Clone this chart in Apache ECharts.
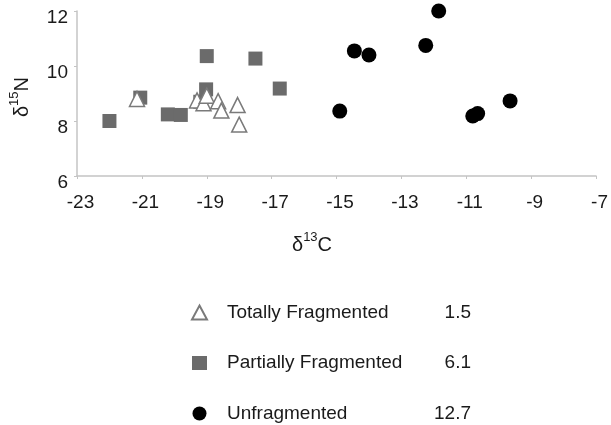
<!DOCTYPE html>
<html>
<head>
<meta charset="utf-8">
<script src="https://cdn.jsdelivr.net/npm/echarts@6/dist/echarts.min.js"></script>
<style>
html,body{margin:0;padding:0;background:#fff;}
#chart{width:611px;height:425px;}
</style>
</head>
<body>
<div id="chart"></div>
<script>
// ---- data ----
const seriesNames = ['Totally Fragmented', 'Partially Fragmented', 'Unfragmented'];
const legendValues = ['1.5', '6.1', '12.7'];

const totallyX = [-21.15, -19.3, -19.1, -19.0, -18.65, -18.55, -18.05, -18.0];
const totallyY = [8.8, 8.75, 8.65, 8.92, 8.72, 8.38, 8.58, 7.87];

const partiallyX = [-22.0, -21.05, -20.2, -19.8, -19.2, -19.02, -19.0, -17.5, -16.75];
const partiallyY = [8.0, 8.85, 8.24, 8.22, 8.7, 9.15, 10.36, 10.27, 9.18];

const unfragX = [-14.9, -14.45, -14.0, -12.25, -11.85, -10.8, -10.65, -9.65];
const unfragY = [8.36, 10.55, 10.4, 10.75, 12.0, 8.18, 8.27, 8.73];

const xTicks = [-23, -21, -19, -17, -15, -13, -11, -9, -7];
const yTicks = [6, 8, 10, 12];

// ---- chart ----
const pair = (xs, ys) => xs.map((x, i) => [x, ys[i]]);
const FONT = '"Liberation Sans", Arial, sans-serif';
const chart = echarts.init(document.getElementById('chart'), null, {renderer: 'canvas'});

chart.setOption({
  animation: false,
  backgroundColor: '#fff',
  grid: {left: 77, right: 13, top: 11, bottom: 249, containLabel: false},
  xAxis: {
    type: 'value',
    min: xTicks[0], max: xTicks[xTicks.length - 1], interval: 2,
    splitLine: {show: false},
    axisLine: {lineStyle: {color: '#c4c4c4', width: 1.5}},
    axisTick: {show: true, length: 3, inside: false, lineStyle: {color: '#c4c4c4'}},
    axisLabel: {
      margin: 17, fontSize: 19, color: '#1a1a1a', fontFamily: FONT,
      formatter: '{a|{value}}',
      rich: {a: {fontSize: 19, fontFamily: FONT, color: '#1a1a1a', padding: [0, 0, 0, 7]}}
    }
  },
  yAxis: {
    type: 'value',
    min: yTicks[0], max: yTicks[yTicks.length - 1], interval: 2,
    splitLine: {show: false},
    axisLine: {show: true, lineStyle: {color: '#c4c4c4', width: 1.5}},
    axisTick: {show: true, length: 3, lineStyle: {color: '#c4c4c4'}},
    axisLabel: {margin: 9, fontSize: 19, color: '#1a1a1a', fontFamily: FONT, verticalAlign: 'top', lineHeight: 13}
  },
  legend: {
    orient: 'vertical',
    left: 191,
    top: 303,
    padding: 0,
    itemWidth: 15,
    itemHeight: 14,
    itemGap: 31.5,
    data: seriesNames,
    formatter: function (name) {
      const i = seriesNames.indexOf(name);
      return '{n|' + name + '}{v|' + legendValues[i] + '}';
    },
    textStyle: {
      fontFamily: FONT,
      fontSize: 19,
      color: '#1a1a1a',
      rich: {
        n: {width: 199, fontSize: 19, fontFamily: FONT, color: '#1a1a1a', padding: [0, 0, 0, 15]},
        v: {width: 45, align: 'right', fontSize: 19, fontFamily: FONT, color: '#1a1a1a'}
      }
    }
  },
  graphic: [
    {
      type: 'text',
      left: 292, top: 231,
      style: {
        text: '{a|δ}{s|13}{a|C}',
        rich: {
          a: {fontSize: 20, fontFamily: FONT, fill: '#1a1a1a', verticalAlign: 'bottom', lineHeight: 24},
          s: {fontSize: 13, fontFamily: FONT, fill: '#1a1a1a', verticalAlign: 'top', lineHeight: 24, padding: [0, 0, 6, 0]}
        }
      }
    },
    {
      type: 'text',
      x: 20, y: 97,
      rotation: Math.PI / 2,
      style: {
        text: '{a|δ}{s|15}{a|N}',
        align: 'center',
        verticalAlign: 'middle',
        rich: {
          a: {fontSize: 20, fontFamily: FONT, fill: '#1a1a1a', verticalAlign: 'bottom', lineHeight: 24},
          s: {fontSize: 13, fontFamily: FONT, fill: '#1a1a1a', verticalAlign: 'top', lineHeight: 24, padding: [0, 0, 6, 0]}
        }
      }
    }
  ],
  series: [
    {
      name: seriesNames[1],
      type: 'scatter',
      symbol: 'rect',
      symbolSize: 14,
      clip: false,
      z: 2,
      itemStyle: {color: '#6b6b6b', opacity: 1},
      data: pair(partiallyX, partiallyY)
    },
    {
      name: seriesNames[2],
      type: 'scatter',
      symbol: 'circle',
      symbolSize: 15,
      clip: false,
      z: 3,
      itemStyle: {color: '#000', opacity: 1},
      data: pair(unfragX, unfragY)
    },
    {
      name: seriesNames[0],
      type: 'scatter',
      symbol: 'triangle',
      symbolSize: 15,
      clip: false,
      z: 4,
      itemStyle: {color: '#fff', borderColor: '#7a7a7a', borderWidth: 1.5, opacity: 1},
      data: pair(totallyX, totallyY)
    }
  ]
});
</script>
</body>
</html>
